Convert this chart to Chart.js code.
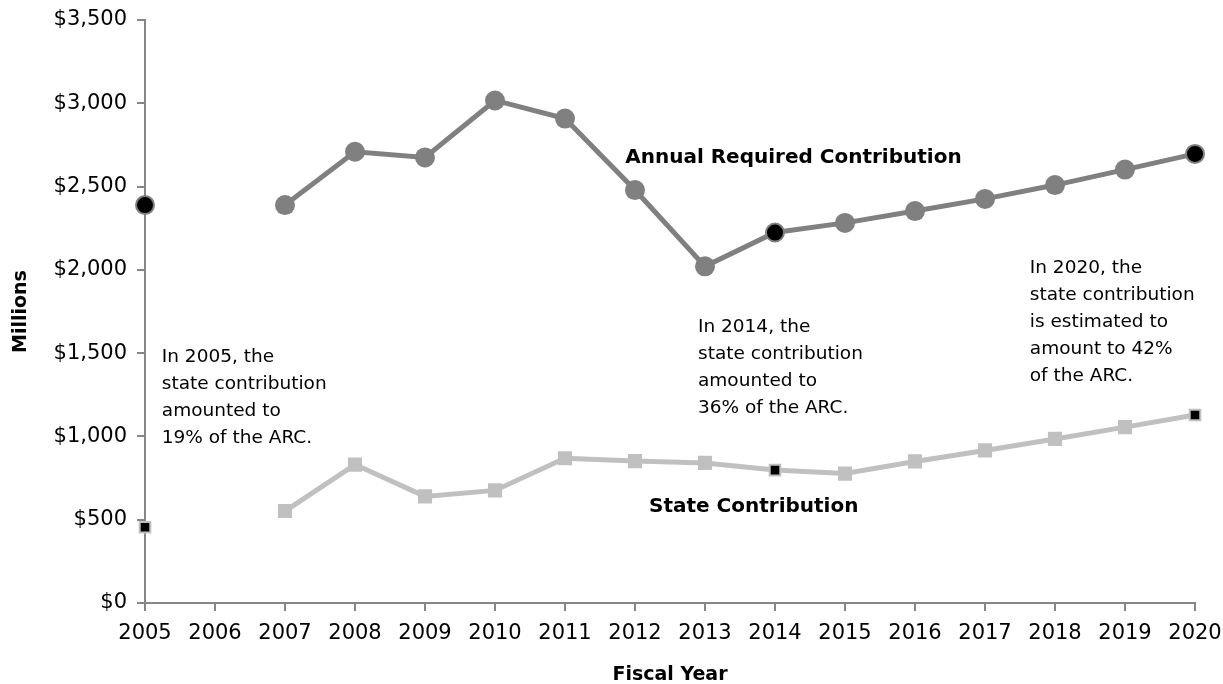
<!DOCTYPE html>
<html>
<head>
<meta charset="utf-8">
<script src="https://cdn.jsdelivr.net/npm/chart.js@4"></script>
<style>
  html, body { margin: 0; padding: 0; background: #fff; }
  #wrap { width: 1223px; height: 684px; }
</style>
</head>
<body>
<div id="wrap"><canvas id="pension-chart"></canvas></div>
<script>
var years = ["2005", "2006", "2007", "2008", "2009", "2010", "2011", "2012",
    "2013", "2014", "2015", "2016", "2017", "2018", "2019", "2020"];
var arcValues = [2389, null, 2389, 2709, 2675, 3017, 2908, 2479,
    2021, 2224, 2282, 2353, 2426, 2509, 2602, 2696];
var stateValues = [455, null, 552, 831, 640, 676, 869, 852,
    841, 798, 777, 850, 916, 985, 1056, 1129];
var yTicks = [0, 500, 1000, 1500, 2000, 2500, 3000, 3500];
var highlightYears = ["2005", "2014", "2020"];

var FONT = "'DejaVu Sans', sans-serif";

// notes drawn on top of the plot, anchored in category index / value units
var notes = [
    { x: 0.24, y: 1477, bold: false, lines: ["In 2005, the", "state contribution", "amounted to", "19% of the ARC."] },
    { x: 7.9, y: 1657, bold: false, lines: ["In 2014, the", "state contribution", "amounted to", "36% of the ARC."] },
    { x: 12.64, y: 2011, bold: false, lines: ["In 2020, the", "state contribution", "is estimated to", "amount to 42%", "of the ARC."] },
    { x: 6.86, y: 2671, bold: true, lines: ["Annual Required Contribution"] },
    { x: 7.2, y: 576, bold: true, lines: ["State Contribution"] }
];

function isHi(i) { return highlightYears.indexOf(years[i]) >= 0; }

var notesPlugin = {
    id: "notes",
    afterDraw: function (chart) {
        var ctx = chart.ctx;
        var xs = chart.scales.x, ys = chart.scales.y;
        ctx.save();
        ctx.fillStyle = "#000";
        ctx.textAlign = "left";
        ctx.textBaseline = "middle";
        notes.forEach(function (n) {
            var px = xs.left + (xs.right - xs.left) * n.x / (years.length - 1);
            var py = ys.getPixelForValue(n.y);
            ctx.font = (n.bold ? "bold 20px " : "18.5px ") + FONT;
            n.lines.forEach(function (t, k) {
                ctx.fillText(t, px, py + k * 27);
            });
        });
        ctx.restore();
    }
};

document.addEventListener("DOMContentLoaded", function () {
    var ctx = document.getElementById("pension-chart").getContext("2d");
    var chart = new Chart(ctx, {
        type: "line",
        data: {
            labels: years,
            datasets: [{
                label: "Annual Required Contribution",
                data: arcValues,
                borderColor: "#808080",
                borderWidth: 5,
                pointStyle: "circle",
                pointRadius: arcValues.map(function (v, i) { return isHi(i) ? 9 : 10; }),
                pointBackgroundColor: arcValues.map(function (v, i) { return isHi(i) ? "#000" : "#808080"; }),
                pointBorderColor: "#808080",
                pointBorderWidth: arcValues.map(function (v, i) { return isHi(i) ? 2 : 0; }),
                tension: 0,
                spanGaps: false
            }, {
                label: "State Contribution",
                data: stateValues,
                borderColor: "#c0c0c0",
                borderWidth: 5,
                pointStyle: "rect",
                pointRadius: stateValues.map(function (v, i) { return isHi(i) ? 7.5 : 10; }),
                pointBackgroundColor: stateValues.map(function (v, i) { return isHi(i) ? "#000" : "#c0c0c0"; }),
                pointBorderColor: "#c0c0c0",
                pointBorderWidth: stateValues.map(function (v, i) { return isHi(i) ? 2 : 0; }),
                tension: 0,
                spanGaps: false
            }]
        },
        options: {
            responsive: true,
            maintainAspectRatio: false,
            animation: false,
            layout: { padding: { top: 20, right: 28, left: 0, bottom: 0 } },
            plugins: {
                legend: { display: false },
                tooltip: { enabled: false }
            },
            scales: {
                x: {
                    type: "category",
                    offset: false,
                    grid: { drawOnChartArea: false, color: "#868686", lineWidth: 2, tickLength: 8 },
                    border: { color: "#868686", width: 2 },
                    ticks: { color: "#000", font: { family: FONT, size: 21 }, padding: 10, maxRotation: 0, autoSkip: false },
                    title: { display: true, text: "Fiscal Year", color: "#000", font: { family: FONT, size: 19, weight: "bold" }, padding: { top: 14, bottom: -2 } },
                    afterFit: function (s) { s.height = 81; s.paddingLeft = 0; s.paddingRight = 0; }
                },
                y: {
                    min: 0,
                    max: 3500,
                    afterBuildTicks: function (s) { s.ticks = yTicks.map(function (v) { return { value: v }; }); },
                    grid: { drawOnChartArea: false, color: "#868686", lineWidth: 2, tickLength: 8 },
                    border: { color: "#868686", width: 2 },
                    ticks: {
                        color: "#000",
                        font: { family: FONT, size: 21 },
                        padding: 10,
                        callback: function (v) { return "$" + v.toLocaleString("en-US"); }
                    },
                    title: { display: true, text: "Millions", color: "#000", font: { family: FONT, size: 19, weight: "bold" }, padding: { top: 10, bottom: 0 } },
                    afterFit: function (s) { s.width = 145; s.paddingTop = 0; s.paddingBottom = 0; }
                }
            }
        },
        plugins: [notesPlugin]
    });
});
</script>
</body>
</html>
